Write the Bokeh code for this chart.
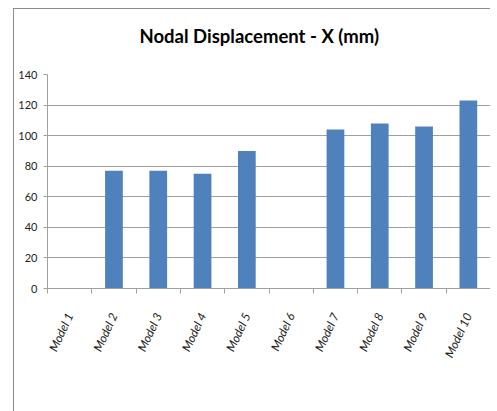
import math
from bokeh.plotting import figure
from bokeh.models import Range1d, FixedTicker, LinearAxis, Legend, LegendItem, Title
from bokeh.embed import file_html
from bokeh.resources import INLINE

categories = ["Model 1", "Model 2", "Model 3", "Model 4", "Model 5",
              "Model 6", "Model 7", "Model 8", "Model 9", "Model 10"]
values = [0, 77, 77, 75, 90, 0, 104, 108, 106, 123]
y_ticks = [0, 20, 40, 60, 80, 100, 120, 140]
series_name = "Nodal Displacement - X (mm)"
title_text = "Nodal Displacement - X (mm)"

FONT = "Lato"
GRAY = "#a0a0a0"

xs = list(range(1, len(categories) + 1))
bounds = [x - 0.5 for x in xs] + [xs[-1] + 0.5]

p = figure(width=477, height=395, frame_width=443, frame_height=214,
           x_range=Range1d(0.5, len(categories) + 0.5),
           y_range=Range1d(0, 140), output_backend="svg", toolbar_location=None,
           x_axis_location=None, min_border_left=33, min_border_right=0,
           min_border_top=65, min_border_bottom=0)
p.margin = (8, 0, 0, 13)
p.styles = {"border-left": "1px solid #8c8c8c", "border-top": "1px solid #8c8c8c"}
p.outline_line_color = None
p.background_fill_color = "white"
p.border_fill_color = "white"

p.title.text = title_text
p.title.align = "left"
p.title.offset = 92
p.title.text_font = FONT
p.title.text_font_style = "bold"
p.title.text_font_size = "18.5px"
p.title.text_color = "#000000"
p.title.standoff = 0

# spacing between title and plot area
p.add_layout(Title(text=" ", text_font_size="2px", standoff=24), "above")

r = p.vbar(x=xs, top=values, width=0.4, fill_color="#4f81bd", line_color=None)

# y axis
ya = p.yaxis[0]
ya.ticker = FixedTicker(ticks=y_ticks)
ya.axis_line_color = GRAY
ya.major_tick_line_color = GRAY
ya.major_tick_out = 4
ya.major_tick_in = 0
ya.minor_tick_line_color = None
ya.major_label_text_font = FONT
ya.major_label_text_font_size = "11px"
ya.major_label_text_color = "#222222"
ya.major_label_standoff = 6

p.ygrid.ticker = FixedTicker(ticks=y_ticks)
p.ygrid.grid_line_color = GRAY
p.xgrid.visible = False

# x axis with boundary ticks
xa = LinearAxis(ticker=FixedTicker(ticks=bounds),
                major_label_overrides={b: "" for b in bounds},
                axis_line_color=GRAY, major_tick_line_color=GRAY,
                major_tick_out=5, major_tick_in=0, minor_tick_line_color=None,
                major_label_standoff=0, major_label_text_font_size="1px")
p.add_layout(xa, "below")

# x axis with category labels
xl = LinearAxis(ticker=FixedTicker(ticks=xs),
                major_label_overrides={x: c for x, c in zip(xs, categories)},
                axis_line_color=None, major_tick_line_color=None,
                minor_tick_line_color=None, major_tick_out=0, major_tick_in=0,
                major_label_orientation=math.radians(65),
                major_label_text_font=FONT, major_label_text_font_style="italic",
                major_label_text_font_size="12px", major_label_text_color="#222222",
                major_label_standoff=20)
p.add_layout(xl, "below")

legend = Legend(items=[LegendItem(label=series_name, renderers=[r])],
                orientation="horizontal", location="center",
                glyph_width=7, glyph_height=7, label_text_font=FONT,
                label_text_font_size="10px", label_text_color="#222222",
                border_line_color=None, background_fill_alpha=0,
                margin=0, padding=0, label_standoff=3)
p.add_layout(legend, "below")

open("out.html", "w").write(file_html(p, INLINE))
